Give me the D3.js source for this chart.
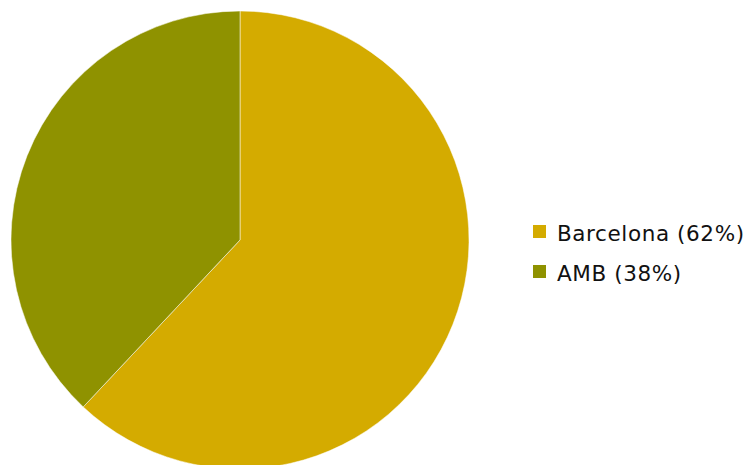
<!DOCTYPE html>
<html>
<head>
<meta charset="utf-8">
<script src="https://cdn.jsdelivr.net/npm/d3@7"></script>
<style>
  body { margin: 0; background: #fff; }
  svg { display: block; }
  text { font-family: "DejaVu Sans", "Noto Sans", sans-serif; }
</style>
</head>
<body>
<script>
// data
var labels = ["Barcelona", "AMB"];
var values = [62, 38];
var colors = ["#d4ab00", "#8f9200"];

var width = 752, height = 465;
var cx = 240, cy = 240, radius = 229;

var svg = d3.select("body").append("svg")
    .attr("width", width)
    .attr("height", height);

var pie = d3.pie().sort(null).value(function(d){ return d; });
var arc = d3.arc().innerRadius(0).outerRadius(radius);

var g = svg.append("g")
    .attr("transform", "translate(" + cx + "," + cy + ")");

g.selectAll("path")
    .data(pie(values))
    .enter().append("path")
      .attr("d", arc)
      .attr("fill", function(d, i){ return colors[i]; })
      .attr("stroke", "rgba(255,255,255,0.5)")
      .attr("stroke-width", 1);

// legend
var legend = svg.append("g").attr("transform", "translate(533,225)");
var item = legend.selectAll("g")
    .data(labels)
    .enter().append("g")
      .attr("transform", function(d, i){ return "translate(0," + (i * 40) + ")"; });

item.append("rect")
    .attr("width", 13)
    .attr("height", 13)
    .attr("fill", function(d, i){ return colors[i]; });

item.append("text")
    .attr("x", 24)
    .attr("y", 16)
    .attr("font-size", "21.5px")
    .attr("letter-spacing", "0.6px")
    .attr("fill", "#111")
    .text(function(d, i){ return d + " (" + values[i] + "%)"; });
</script>
</body>
</html>
